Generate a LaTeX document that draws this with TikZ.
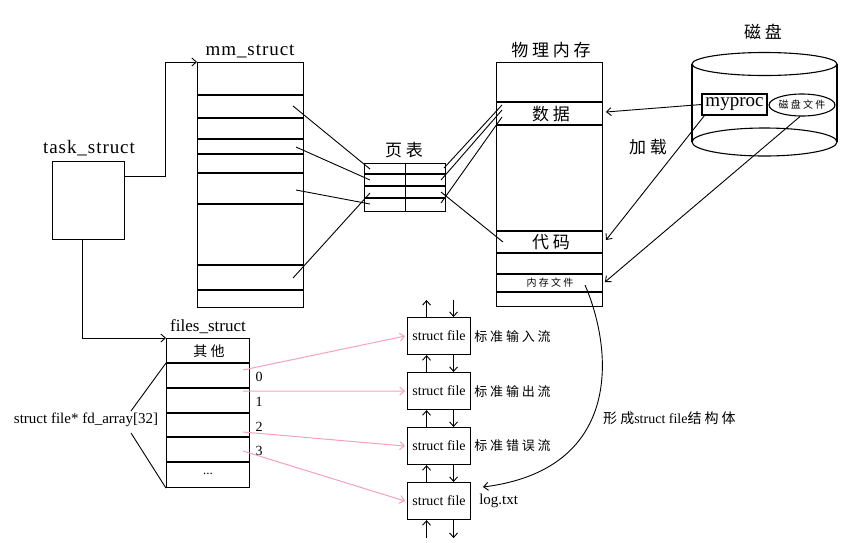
\documentclass[tikz,border=0pt]{standalone}
\usepackage{fontspec}
\setmainfont{Liberation Serif}
\newfontfamily\wide{Liberation Serif}[LetterSpace=5]
\newfontfamily\cjk{Noto Sans CJK SC}[LetterSpace=22]
\usetikzlibrary{positioning,shapes.geometric,arrows.meta}
\definecolor{fdpink}{RGB}{246,160,192}

\tikzset{
  >={Straight Barb[length=4.5pt,width=8pt]},
  box/.style={draw, line width=1.1pt, inner sep=0pt, anchor=north west},
  row/.style={line width=1.1pt},
  ptr/.style={line width=0.9pt},
  arr/.style={line width=0.9pt, ->},
  fdarr/.style={fdpink, line width=1pt, ->},
  lbl/.style={inner sep=0pt, font=\fontsize{19}{21}\wide},
  zh/.style={inner sep=0pt, font=\fontsize{17}{19}\selectfont\cjk},
  zhsmall/.style={inner sep=0pt, font=\fontsize{13}{15}\selectfont\cjk},
  zhtiny/.style={inner sep=0pt, font=\fontsize{10}{12}\selectfont\cjk},
}

\begin{document}
\begin{tikzpicture}[x=1pt, y=-1pt]
\useasboundingbox (0,0) rectangle (859,542);

% task_struct
\node[box, minimum width=72pt, minimum height=78pt] (task) at (52,161) {};
\node[lbl] at (89,148) {task\_struct};

% mm_struct
\node[box, minimum width=106pt, minimum height=245pt] (mm) at (197,62) {};
\node[lbl] at (250,51) {mm\_struct};
\foreach \y in {95,118,139,154,173,204,265,290}
  \draw[row] (mm.west |- 0,\y) -- (mm.east |- 0,\y);
\draw[arr] ([yshift=-15pt]task.north east) -- ++(40,0) |- (mm.north west);

% page table
\node[box, minimum width=81pt, minimum height=48pt] (pt) at (364,163) {};
\node[zh] at (404,150) {页表};
\draw[row] (pt.north) -- (pt.south);
\foreach \y in {174,186,198}
  \draw[row] (pt.west |- 0,\y) -- (pt.east |- 0,\y);

% physical memory
\node[box, minimum width=106pt, minimum height=244pt] (mem) at (496,62) {};
\node[zh] at (551,50) {物理内存};
\foreach \y in {102,125,231,253,274,292}
  \draw[row] (mem.west |- 0,\y) -- (mem.east |- 0,\y);
\node[zh] at (551,114) {数据};
\node[zh] at (551,242) {代码};
\node[zhtiny] at (550,283) {内存文件};

% mapping lines
\foreach \n/\x/\y in {m1/293/106, m2/296/147, m3/296/190, m4/293/278,
                      pl1/370/169, pl2/370/180, pl3/370/204, pl4/370/193,
                      pr1/444/168, pr2/441/180, pr3/441/203, pr4/441/192,
                      d1/502/105, d2/502/110, d3/502/117, c1/503/242}
  \coordinate (\n) at (\x,\y);
\foreach \i in {1,2,3,4}
  \draw[ptr] (m\i) -- (pl\i);
\draw[ptr] (pr1) -- (d1);
\draw[ptr] (pr2) -- (d2);
\draw[ptr] (pr3) -- (d3);
\draw[ptr] (pr4) -- (c1);

% disk
\draw[row] (764.5,64) ellipse [x radius=72.5pt, y radius=11.5pt];
\draw[row] (764.5,142) ellipse [x radius=72.5pt, y radius=14pt];
\draw[row] (692,64) -- (692,142);
\draw[row] (837,64) -- (837,142);
\node[zh] at (763,32) {磁盘};
\node[draw, line width=1.1pt, minimum width=65pt, minimum height=21pt, inner sep=0pt,
      font=\fontsize{19}{19}\selectfont] (proc) at (734.5,104.5) {myproc};
\node[draw, ellipse, line width=1.1pt, minimum width=65pt, minimum height=22pt,
      inner sep=0pt, font=\fontsize{10}{12}\selectfont\cjk] (dfile) at (802,105) {磁盘文件};
\node[zh] at (648,147) {加载};

\coordinate (memd) at (606,112);
\coordinate (memc) at (606,240);
\coordinate (memf) at (605,282);
\draw[arr] (proc.west) -- (memd);
\draw[arr] ([xshift=3pt]proc.south west) -- (memc);
\draw[arr] ([xshift=-2pt]dfile.south) -- (memf);

% files_struct
\node[box, minimum width=83pt, minimum height=149pt] (files) at (166,338) {};
\node[inner sep=0pt, font=\fontsize{17}{19}\selectfont] at (208,327) {files\_struct};
\foreach \y in {363,388,413,437,462}
  \draw[row] (files.west |- 0,\y) -- (files.east |- 0,\y);
\node[inner sep=0pt, font=\fontsize{14}{16}\selectfont\cjk] at (209,351) {其他};
\node[inner sep=0pt, font=\fontsize{13}{15}\selectfont] at (208,474) {...};
\foreach \n/\y in {0/377,1/402,2/427,3/451}
  \node[inner sep=0pt, font=\fontsize{14}{16}\selectfont] at (259,\y) {\n};
\draw[arr] ([xshift=-6pt]task.south) |- (files.north west);

\node[inner sep=0pt, font=\fontsize{15}{17}\selectfont] (fd) at (86,420) {struct file* fd\_array[32]};
\coordinate (fdtop) at (131,411);
\coordinate (fdbot) at (131,433);
\draw[ptr] (fdtop) -- (files.west |- 0,363);
\draw[ptr] (fdbot) -- (files.south west);

% struct file chain
\foreach \i/\y in {1/317,2/372,3/427,4/482}
  \node[box, minimum width=63pt, minimum height=37pt,
        font=\fontsize{14}{16}\selectfont] (sf\i) at (407,\y) {struct file};
\draw[arr] ([xshift=-12.5pt]sf1.north) -- ([xshift=-12.5pt,yshift=17pt]sf1.north);
\draw[arr] ([xshift=14.5pt,yshift=17pt]sf1.north) -- ([xshift=14.5pt]sf1.north);
\foreach \i/\j in {1/2,2/3,3/4}{
  \draw[arr] ([xshift=-12.5pt]sf\j.north) -- ([xshift=-12.5pt]sf\i.south);
  \draw[arr] ([xshift=14.5pt]sf\i.south) -- ([xshift=14.5pt]sf\j.north);
}
\draw[arr] ([xshift=-12.5pt,yshift=-18pt]sf4.south) -- ([xshift=-12.5pt]sf4.south);
\draw[arr] ([xshift=14.5pt]sf4.south) -- ([xshift=14.5pt,yshift=-18pt]sf4.south);

\node[zhsmall, right=3pt of sf1] {标准输入流};
\node[zhsmall, right=3pt of sf2] {标准输出流};
\node[zhsmall, right=3pt of sf3] {标准错误流};
\node[inner sep=0pt, font=\fontsize{15}{17}\selectfont, right=8pt of sf4] {log.txt};

% fd_array -> struct file
\foreach \i/\y in {1/370,2/391,3/432,4/451}
  \draw[fdarr] (243,\y) -- ([xshift=-2pt]sf\i.west);

% memory file -> struct file
\coordinate (mf) at (585,285);
\coordinate (logend) at (483,487);
\draw[arr] (mf) .. controls (615,355) and (620,470) .. (logend);
\node[inner sep=0pt, anchor=west, font=\fontsize{14}{16}\selectfont] at (603,418)
  {{\cjk 形成}struct file{\cjk 结构体}};

\end{tikzpicture}
\end{document}
